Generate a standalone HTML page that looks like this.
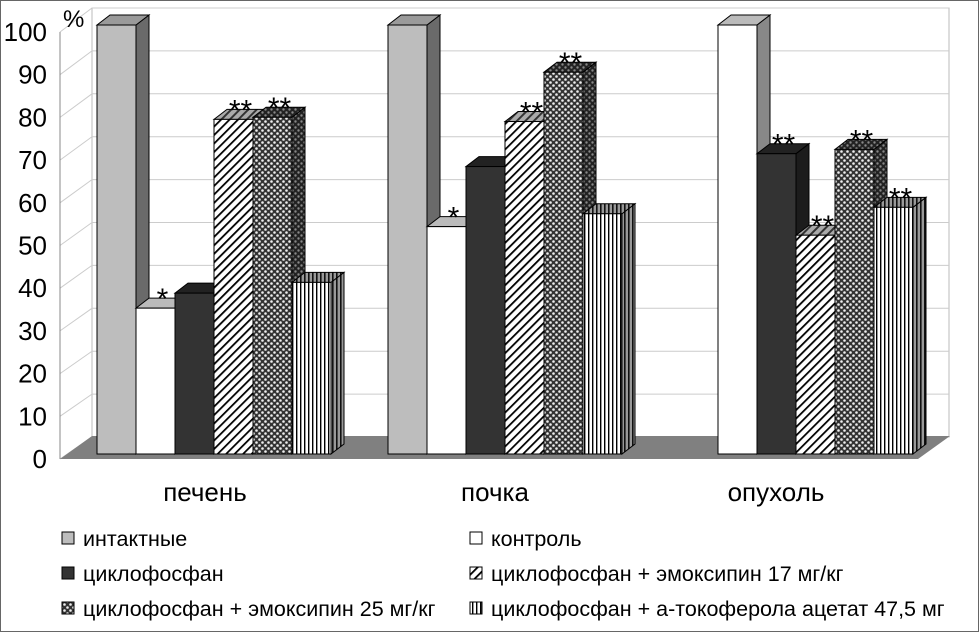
<!DOCTYPE html>
<html><head><meta charset="utf-8">
<style>
html,body{margin:0;padding:0;background:#fff;}
svg{display:block;font-family:"Liberation Sans",Arial,sans-serif;}
</style></head>
<body>
<svg id="chart" width="979" height="632" viewBox="0 0 979 632">
<defs>
<pattern id="p-hatch" patternUnits="userSpaceOnUse" width="6" height="6" patternTransform="rotate(45)">
<rect width="6" height="6" fill="#fff"/><rect width="1.8" height="6" fill="#000"/></pattern>
<pattern id="p-hatch-d" patternUnits="userSpaceOnUse" width="6" height="6" patternTransform="rotate(45)">
<rect width="6" height="6" fill="#aaa"/><rect width="2" height="6" fill="#333"/></pattern>
<pattern id="p-check" patternUnits="userSpaceOnUse" width="6" height="6">
<rect width="6" height="6" fill="#333"/><circle cx="1.5" cy="1.5" r="1.3" fill="#eee"/><circle cx="4.5" cy="4.5" r="1.3" fill="#eee"/></pattern>
<pattern id="p-check-d" patternUnits="userSpaceOnUse" width="6" height="6">
<rect width="6" height="6" fill="#222"/><circle cx="1.5" cy="1.5" r="1.2" fill="#888"/><circle cx="4.5" cy="4.5" r="1.2" fill="#888"/></pattern>
<pattern id="p-vert" patternUnits="userSpaceOnUse" width="4" height="4">
<rect width="4" height="4" fill="#fff"/><rect width="1.4" height="4" fill="#000"/></pattern>
<pattern id="p-vert-d" patternUnits="userSpaceOnUse" width="4" height="4">
<rect width="4" height="4" fill="#999"/><rect width="1.6" height="4" fill="#111"/></pattern>
</defs>
<rect x="0.5" y="0.5" width="978" height="631" fill="#fff" stroke="#666" stroke-width="1"/>
<g id="grid"></g>
<g id="floor"></g>
<g id="axis"></g>
<g id="bars"></g>
<g id="labels"></g>
<g id="legend"></g>
</svg>
<script>
const categories = ["печень", "почка", "опухоль"];
const seriesNames = ["интактные", "контроль", "циклофосфан", "циклофосфан + эмоксипин 17 мг/кг", "циклофосфан + эмоксипин 25 мг/кг", "циклофосфан + а-токоферола ацетат 47,5 мг"];
const liverValues = [100, 34, 37.5, 78, 78.5, 40];
const kidneyValues = [100, 53, 67, 77.5, 89, 56];
const tumorValues = [null, 100, 70, 51, 71, 57.5];
const liverStars = ["", "*", "", "**", "**", ""];
const kidneyStars = ["", "*", "", "**", "**", ""];
const tumorStars = ["", "", "**", "**", "**", "**"];
const yTicks = [0,10,20,30,40,50,60,70,80,90,100];

const NS = "http://www.w3.org/2000/svg";
function mk(tag, attrs, parent){const e=document.createElementNS(NS,tag);for(const k in attrs)e.setAttribute(k,attrs[k]);parent.appendChild(e);return e;}
const Y0 = 454, K = 4.29, DX = 13, DY = 10;
const yScale = v => Y0 - v*K;
const groupStart = [97, 388, 718];
const BW = 39;
const fronts = ["#bdbdbd","#fff","#333","url(#p-hatch)","url(#p-check)","url(#p-vert)"];
const sides = ["#6a6a6a","#888","#1c1c1c","url(#p-hatch-d)","url(#p-check-d)","url(#p-vert-d)"];
const tops = ["#9a9a9a","#bbb","#222","url(#p-hatch-d)","url(#p-check-d)","url(#p-vert-d)"];

const grid = document.getElementById('grid');
const wall = mk('polygon',{points:"92,8 949,8 949,437 92,437",fill:"#fff",stroke:"#bbb"},grid);


yTicks.forEach(t=>{
  const yf = 459 - t*4.27, yb = 437 - t*4.29;
  const g = mk('path',{d:`M60,${yf} L92,${yb} L949,${yb}`,fill:"none",stroke:"#ccc","stroke-width":1},grid);
  
  
});
const floor = mk('polygon',{points:"60,459 92,436 950,436 918,459",fill:"#808080"},document.getElementById('floor'));



const axis = document.getElementById('axis');
const al = mk('line',{x1:60,y1:32,x2:60,y2:459,stroke:"#888"},axis);


yTicks.forEach(t=>{
  const tx = mk('text',{x:47,y:459 - t*4.27+9,"text-anchor":"end","font-size":26,fill:"#000"},axis);
  tx.textContent = t;
  
  
});
const pct = mk('text',{x:63,y:27,"font-size":24},axis);
pct.textContent="%";



const bars = document.getElementById('bars');
const allVals = [liverValues, kidneyValues, tumorValues];
const allStars = [liverStars, kidneyStars, tumorStars];
allVals.forEach((vals, gi)=>{
  let slot = 0;
  vals.forEach((v, si)=>{
    if (v === null) return;
    const x = groupStart[gi] + slot*BW; slot++;
    const y = yScale(v);
    const g = mk('g',{},bars);
    
    
    const special = (gi===2 && si===1);
    mk('polygon',{points:`${x+BW},${y} ${x+BW+DX},${y-DY} ${x+BW+DX},${Y0-DY} ${x+BW},${Y0}`,fill:special?"#888":sides[si],stroke:"#000","stroke-width":1},g);
    mk('polygon',{points:`${x},${y} ${x+DX},${y-DY} ${x+BW+DX},${y-DY} ${x+BW},${y}`,fill:special?"#bbb":tops[si],stroke:"#000","stroke-width":1},g);
    mk('rect',{x:x,y:y,width:BW,height:Y0-y,fill:fronts[si],stroke:"#000","stroke-width":1},g);
    const s = allStars[gi][si];
    if (s){
      const st = mk('text',{x:x+BW/2+7,y:y-DY+11,"text-anchor":"middle","font-size":30,fill:"#000"},g);
      st.textContent = s;
      
      
    }
  });
});

const labels = document.getElementById('labels');
[205,495,776].forEach((cx,i)=>{
  const t = mk('text',{x:cx,y:501,"text-anchor":"middle","font-size":26},labels);
  t.textContent = categories[i];
  
  
});

const legend = document.getElementById('legend');
const legPos = [[62,538],[470,538],[62,573],[470,573],[62,608],[470,608]];
const legFill = ["#bdbdbd","#fff","#333","url(#p-hatch)","url(#p-check)","url(#p-vert)"];
seriesNames.forEach((n,i)=>{
  const [x,y]=legPos[i];
  const g = mk('g',{},legend);
  
  
  mk('rect',{x:x,y:y-6,width:12,height:12,fill:legFill[i],stroke:"#000"},g);
  const t = mk('text',{x:x+21,y:y+8,"font-size":21.5},g);
  t.textContent = n;
});
</script>
</body></html>
